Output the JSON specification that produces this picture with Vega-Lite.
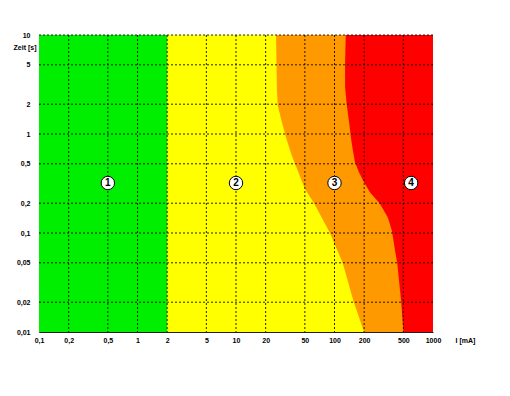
{
  "$schema": "https://vega.github.io/schema/vega-lite/v6.json",
  "width": 394,
  "height": 297,
  "autosize": "none",
  "padding": {"left": 39, "top": 35, "right": 77, "bottom": 64},
  "background": "white",
  "config": {"view": {"stroke": null}, "font": "Liberation Sans"},
  "datasets": {
    "zones": [
      {"zone": "4", "i_from": 0.1, "i_to": 1000, "t_from": 0.01, "t_to": 10},
      {"zone": "1", "i_from": 0.1, "i_to": 2, "t_from": 0.01, "t_to": 10}
    ],
    "curves": [
      {"curve": "c2", "i": 25.5, "t": 10},
      {"curve": "c2", "i": 26, "t": 2.9},
      {"curve": "c2", "i": 26.5, "t": 1.95},
      {"curve": "c2", "i": 29, "t": 1.35},
      {"curve": "c2", "i": 32.3, "t": 0.91},
      {"curve": "c2", "i": 36.8, "t": 0.605},
      {"curve": "c2", "i": 43, "t": 0.41},
      {"curve": "c2", "i": 50, "t": 0.28},
      {"curve": "c2", "i": 62, "t": 0.2},
      {"curve": "c2", "i": 90, "t": 0.1},
      {"curve": "c2", "i": 121, "t": 0.05},
      {"curve": "c2", "i": 157, "t": 0.02},
      {"curve": "c2", "i": 200, "t": 0.01},
      {"curve": "c3", "i": 130, "t": 10},
      {"curve": "c3", "i": 128, "t": 5},
      {"curve": "c3", "i": 128, "t": 3},
      {"curve": "c3", "i": 133, "t": 2},
      {"curve": "c3", "i": 143, "t": 1.15},
      {"curve": "c3", "i": 147, "t": 0.91},
      {"curve": "c3", "i": 153, "t": 0.7},
      {"curve": "c3", "i": 161, "t": 0.525},
      {"curve": "c3", "i": 177, "t": 0.41},
      {"curve": "c3", "i": 200, "t": 0.324},
      {"curve": "c3", "i": 231, "t": 0.255},
      {"curve": "c3", "i": 287, "t": 0.2},
      {"curve": "c3", "i": 348, "t": 0.143},
      {"curve": "c3", "i": 383, "t": 0.105},
      {"curve": "c3", "i": 412, "t": 0.066},
      {"curve": "c3", "i": 433, "t": 0.05},
      {"curve": "c3", "i": 476, "t": 0.02},
      {"curve": "c3", "i": 500, "t": 0.01}
    ],
    "gridx": [
      {"i": 0.2}, {"i": 0.5}, {"i": 1}, {"i": 2}, {"i": 5}, {"i": 10},
      {"i": 20}, {"i": 50}, {"i": 100}, {"i": 200}, {"i": 500}
    ],
    "gridy": [
      {"t": 0.02}, {"t": 0.05}, {"t": 0.1}, {"t": 0.2}, {"t": 0.5},
      {"t": 1}, {"t": 2}, {"t": 5}, {"t": 10}
    ],
    "labels": [
      {"zone": "1", "i": 0.5, "t": 0.32},
      {"zone": "2", "i": 10, "t": 0.32},
      {"zone": "3", "i": 100, "t": 0.32},
      {"zone": "4", "i": 600, "t": 0.32}
    ]
  },
  "layer": [
    {
      "data": {"name": "zones"},
      "transform": [{"filter": "datum.zone == '4'"}],
      "mark": {"type": "rect", "color": "#FF0000"},
      "encoding": {
        "x": {
          "field": "i_from", "type": "quantitative",
          "scale": {"type": "log", "domain": [0.1, 1000], "nice": false},
          "axis": {
            "values": [0.1, 0.2, 0.5, 1, 2, 5, 10, 20, 50, 100, 200, 500, 1000],
            "labelExpr": "replace(toString(datum.value), '.', ',')",
            "grid": false, "ticks": false,
            "domain": true, "domainColor": "#202020",
            "labelFontSize": 7, "labelFontWeight": "bold", "labelColor": "#000",
            "labelPadding": 4, "labelFlush": false, "labelOverlap": false,
            "title": "I [mA]", "titleFontSize": 7, "titleFontWeight": "bold",
            "titleAngle": 0, "titleAlign": "left", "titleBaseline": "middle",
            "titleX": 416, "titleY": 8
          }
        },
        "x2": {"field": "i_to"},
        "y": {
          "field": "t_from", "type": "quantitative",
          "scale": {"type": "log", "domain": [0.01, 10], "nice": false},
          "axis": {
            "values": [0.01, 0.02, 0.05, 0.1, 0.2, 0.5, 1, 2, 5, 10],
            "labelExpr": "replace(toString(datum.value), '.', ',')",
            "grid": false, "ticks": false,
            "domain": true, "domainColor": "#300030",
            "labelFontSize": 7, "labelFontWeight": "bold", "labelColor": "#000",
            "labelPadding": 9, "labelFlush": false, "labelOverlap": false,
            "title": "Zeit [s]", "titleFontSize": 7, "titleFontWeight": "bold",
            "titleAngle": 0, "titleAlign": "right", "titleBaseline": "middle",
            "titleX": -3, "titleY": 12
          }
        },
        "y2": {"field": "t_to"}
      }
    },
    {
      "data": {"name": "curves"},
      "transform": [{"filter": "datum.curve == 'c3'"}],
      "mark": {"type": "area", "orient": "horizontal", "color": "#FF9900"},
      "encoding": {
        "y": {"field": "t", "type": "quantitative", "scale": {"type": "log", "domain": [0.01, 10], "nice": false}},
        "x": {"field": "i", "type": "quantitative", "scale": {"type": "log", "domain": [0.1, 1000], "nice": false}},
        "x2": {"datum": 0.1}
      }
    },
    {
      "data": {"name": "curves"},
      "transform": [{"filter": "datum.curve == 'c2'"}],
      "mark": {"type": "area", "orient": "horizontal", "color": "#FFFF00"},
      "encoding": {
        "y": {"field": "t", "type": "quantitative", "scale": {"type": "log", "domain": [0.01, 10], "nice": false}},
        "x": {"field": "i", "type": "quantitative", "scale": {"type": "log", "domain": [0.1, 1000], "nice": false}},
        "x2": {"datum": 0.1}
      }
    },
    {
      "data": {"name": "zones"},
      "transform": [{"filter": "datum.zone == '1'"}],
      "mark": {"type": "rect", "color": "#00EE00"},
      "encoding": {
        "x": {"field": "i_from", "type": "quantitative", "scale": {"type": "log", "domain": [0.1, 1000], "nice": false}},
        "x2": {"field": "i_to"},
        "y": {"field": "t_from", "type": "quantitative", "scale": {"type": "log", "domain": [0.01, 10], "nice": false}},
        "y2": {"field": "t_to"}
      }
    },
    {
      "data": {"name": "gridx"},
      "mark": {"type": "rule", "color": "#000", "strokeDash": [2, 2], "strokeWidth": 1, "opacity": 0.85},
      "encoding": {
        "x": {"field": "i", "type": "quantitative", "scale": {"type": "log", "domain": [0.1, 1000], "nice": false}}
      }
    },
    {
      "data": {"name": "gridy"},
      "mark": {"type": "rule", "color": "#000", "strokeDash": [2, 2], "strokeWidth": 1, "opacity": 0.85},
      "encoding": {
        "y": {"field": "t", "type": "quantitative", "scale": {"type": "log", "domain": [0.01, 10], "nice": false}}
      }
    },
    {
      "data": {"name": "labels"},
      "mark": {"type": "point", "shape": "circle", "filled": true, "fill": "white", "stroke": "#000", "strokeWidth": 1, "size": 180, "opacity": 1},
      "encoding": {
        "x": {"field": "i", "type": "quantitative", "scale": {"type": "log", "domain": [0.1, 1000], "nice": false}},
        "y": {"field": "t", "type": "quantitative", "scale": {"type": "log", "domain": [0.01, 10], "nice": false}}
      }
    },
    {
      "data": {"name": "labels"},
      "mark": {"type": "text", "fontSize": 10, "fontWeight": "bold", "color": "#000", "baseline": "middle", "align": "center", "dy": 0.5},
      "encoding": {
        "x": {"field": "i", "type": "quantitative", "scale": {"type": "log", "domain": [0.1, 1000], "nice": false}},
        "y": {"field": "t", "type": "quantitative", "scale": {"type": "log", "domain": [0.01, 10], "nice": false}},
        "text": {"field": "zone"}
      }
    }
  ]
}
